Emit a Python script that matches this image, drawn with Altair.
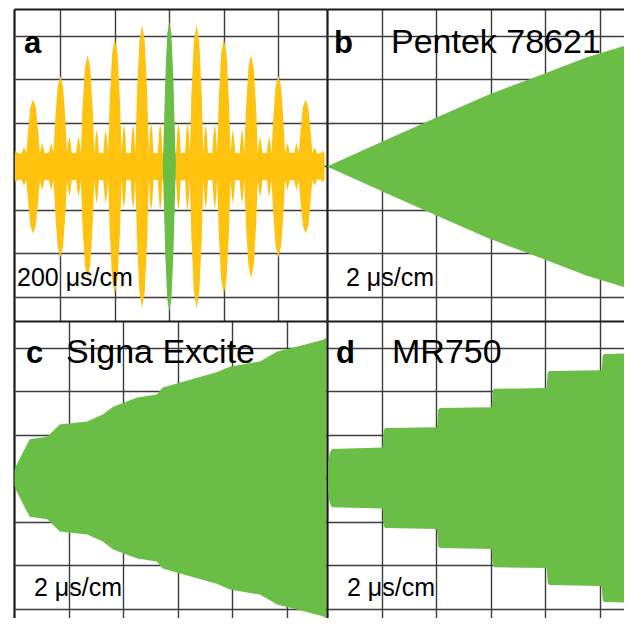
import altair as alt
import pandas as pd

# ---------------- data ----------------
# Panel a: envelope vertices (time in cm at 200 us/cm, amplitude in cm) of the yellow beat signal
a_env = [
    (-2.835, 0.30), (-2.82, 0.37), (-2.79, 0.31),
    (-2.71, 0.30), (-2.689, 0.38), (-2.667, 0.44), (-2.645, 0.38), (-2.624, 0.31),
    (-2.622, 0.34), (-2.595, 0.77), (-2.55, 1.36), (-2.50, 1.54), (-2.45, 1.36), (-2.405, 0.77), (-2.378, 0.34),
    (-2.376, 0.31), (-2.355, 0.43), (-2.333, 0.55), (-2.311, 0.43), (-2.29, 0.31),
    (-2.21, 0.31), (-2.189, 0.43), (-2.167, 0.55), (-2.145, 0.43), (-2.124, 0.31),
    (-2.122, 0.34), (-2.095, 1.05), (-2.05, 1.84), (-2.00, 2.09), (-1.95, 1.84), (-1.905, 1.05), (-1.878, 0.34),
    (-1.876, 0.31), (-1.855, 0.54), (-1.833, 0.69), (-1.811, 0.54), (-1.79, 0.31),
    (-1.71, 0.31), (-1.689, 0.54), (-1.667, 0.69), (-1.645, 0.54), (-1.624, 0.31),
    (-1.622, 0.34), (-1.595, 1.29), (-1.55, 2.26), (-1.50, 2.57), (-1.45, 2.26), (-1.405, 1.29), (-1.378, 0.34),
    (-1.376, 0.31), (-1.355, 0.66), (-1.333, 0.85), (-1.311, 0.66), (-1.29, 0.31),
    (-1.21, 0.31), (-1.189, 0.66), (-1.167, 0.85), (-1.145, 0.66), (-1.124, 0.31),
    (-1.122, 0.34), (-1.095, 1.47), (-1.05, 2.59), (-1.00, 2.94), (-0.95, 2.59), (-0.905, 1.47), (-0.878, 0.34),
    (-0.876, 0.31), (-0.855, 0.76), (-0.833, 0.97), (-0.811, 0.76), (-0.79, 0.31),
    (-0.71, 0.31), (-0.689, 0.76), (-0.667, 0.97), (-0.645, 0.76), (-0.624, 0.31),
    (-0.622, 0.34), (-0.595, 1.63), (-0.55, 2.87), (-0.50, 3.26), (-0.45, 2.87), (-0.405, 1.63), (-0.378, 0.34),
    (-0.376, 0.31), (-0.355, 0.79), (-0.333, 1.01), (-0.311, 0.79), (-0.29, 0.31),
    (-0.21, 0.31), (-0.189, 0.79), (-0.167, 1.01), (-0.145, 0.79), (-0.124, 0.31),
    (0.0, 0.34),
    (0.124, 0.31), (0.145, 0.79), (0.167, 1.01), (0.189, 0.79), (0.21, 0.31),
    (0.29, 0.31), (0.311, 0.79), (0.333, 1.01), (0.355, 0.79), (0.376, 0.31),
    (0.378, 0.34), (0.405, 1.63), (0.45, 2.87), (0.50, 3.26), (0.55, 2.87), (0.595, 1.63), (0.622, 0.34),
    (0.624, 0.31), (0.645, 0.76), (0.667, 0.97), (0.689, 0.76), (0.71, 0.31),
    (0.79, 0.31), (0.811, 0.76), (0.833, 0.97), (0.855, 0.76), (0.876, 0.31),
    (0.878, 0.34), (0.905, 1.47), (0.95, 2.59), (1.00, 2.94), (1.05, 2.59), (1.095, 1.47), (1.122, 0.34),
    (1.124, 0.31), (1.145, 0.66), (1.167, 0.85), (1.189, 0.66), (1.21, 0.31),
    (1.29, 0.31), (1.311, 0.66), (1.333, 0.85), (1.355, 0.66), (1.376, 0.31),
    (1.378, 0.34), (1.405, 1.29), (1.45, 2.26), (1.50, 2.57), (1.55, 2.26), (1.595, 1.29), (1.622, 0.34),
    (1.624, 0.31), (1.645, 0.54), (1.667, 0.69), (1.689, 0.54), (1.71, 0.31),
    (1.79, 0.31), (1.811, 0.54), (1.833, 0.69), (1.855, 0.54), (1.876, 0.31),
    (1.878, 0.34), (1.905, 1.05), (1.95, 1.84), (2.00, 2.09), (2.05, 1.84), (2.095, 1.05), (2.122, 0.34),
    (2.124, 0.31), (2.145, 0.43), (2.167, 0.55), (2.189, 0.43), (2.21, 0.31),
    (2.29, 0.31), (2.311, 0.43), (2.333, 0.55), (2.355, 0.43), (2.376, 0.31),
    (2.378, 0.34), (2.405, 0.77), (2.45, 1.36), (2.50, 1.54), (2.55, 1.36), (2.595, 0.77), (2.622, 0.34),
    (2.624, 0.31), (2.645, 0.38), (2.667, 0.44), (2.689, 0.38), (2.71, 0.30),
    (2.79, 0.31), (2.82, 0.37), (2.85, 0.28),
]

# Panel a: green centre pulse
g_env = [(-0.12, 0.0), (-0.11, 0.40), (-0.075, 2.00), (-0.038, 3.05), (0.0, 3.33),
         (0.038, 3.05), (0.075, 2.00), (0.11, 0.40), (0.12, 0.0)]

# Panel b: Pentek 78621 (2 us/cm)
b_env = [(0.0, 0.0), (1.10, 0.62), (2.02, 1.13), (2.94, 1.64), (3.85, 2.07),
         (4.77, 2.51), (5.61, 2.83), (5.80, 2.90)]

# Panel c: Signa Excite (2 us/cm)
c_env = [(0.01, 0.18), (0.03, 0.26), (0.17, 0.61), (0.29, 0.89), (0.61, 0.95),
         (0.84, 1.23), (1.34, 1.30), (1.63, 1.46), (1.82, 1.64), (2.26, 1.85),
         (2.62, 1.92), (2.73, 2.08), (3.23, 2.26), (3.72, 2.43), (3.96, 2.56),
         (4.51, 2.68), (4.83, 2.91), (5.19, 3.02), (5.67, 3.18), (5.73, 3.22)]

# Panel d: MR750 (2 us/cm), stepped ramp
d_env = [(0.02, 0.30), (0.05, 0.58), (0.09, 0.67), (1.02, 0.70), (1.04, 1.10),
         (1.07, 1.15), (2.02, 1.17), (2.04, 1.57), (2.07, 1.61), (3.02, 1.63),
         (3.04, 2.01), (3.07, 2.05), (4.03, 2.07), (4.05, 2.42), (4.08, 2.46),
         (5.04, 2.48), (5.06, 2.82), (5.09, 2.85), (5.80, 2.87)]

letters = ["a", "b", "c", "d"]
names = ["", "Pentek 78621", "Signa Excite", "MR750"]
sweeps = ["200 μs/cm", "2 μs/cm", "2 μs/cm", "2 μs/cm"]

YELLOW = "#FFC20E"
GREEN = "#6ABD45"
FONT = "Liberation Sans"
GRID = "#3c3c3c"
BORDER = "#1a1a1a"

W1, W2 = 313, 297
H1, H2 = 312, 297
PX_X, PX_Y = 54.5, 43.5


def env_df(env):
    return pd.DataFrame(env, columns=["t", "amp"])


def grid_axis(values, edge):
    return alt.Axis(
        values=values + [edge], grid=True, labels=False, ticks=False,
        domain=False, title=None,
        gridWidth={"condition": {"test": f"datum.value == {edge}", "value": 2.2}, "value": 1.4},
        gridColor={"condition": {"test": f"datum.value == {edge}", "value": BORDER}, "value": GRID},
    )


def area(env, color, xdom, ydom, xvals, yvals):
    return alt.Chart(env_df(env)).transform_calculate(
        neg="-datum.amp"
    ).mark_area(color=color, clip=True, opacity=1).encode(
        x=alt.X("t:Q", scale=alt.Scale(domain=xdom, nice=False, zero=False),
                axis=grid_axis(xvals, xdom[0])),
        y=alt.Y("amp:Q", scale=alt.Scale(domain=ydom, nice=False, zero=False),
                axis=grid_axis(yvals, ydom[1])),
        y2="neg:Q",
    )


def text(label, px, py, size, bold=False):
    return alt.Chart(pd.DataFrame({"label": [label]})).mark_text(
        align="left", baseline="alphabetic", font=FONT, fontSize=size,
        fontWeight="bold" if bold else "normal", color="black",
    ).encode(text="label:N", x=alt.value(px), y=alt.value(py))


yv = [-3, -2, -1, 0, 1, 2, 3]
ydom1 = [round(3.62 - H1 / PX_Y, 4), 3.62]
ydom2 = [round(3.61 - H2 / PX_Y, 4), 3.61]
xdom_a = [-2.85, round(-2.85 + W1 / PX_X, 4)]
xdom_c = [0.0, round(W1 / PX_X, 4)]
xdom_bd = [0.0, round(W2 / PX_X, 4)]

panel_a = alt.layer(
    area(a_env, YELLOW, xdom_a, ydom1, [-2, -1, 0, 1, 2], yv),
    area(g_env, GREEN, xdom_a, ydom1, [-2, -1, 0, 1, 2], yv),
    text(letters[0], 10, 44, 31, bold=True),
    text(sweeps[0], 3, 277, 25),
).properties(width=W1, height=H1)

panel_b = alt.layer(
    area(b_env, GREEN, xdom_bd, ydom1, [1, 2, 3, 4, 5], yv),
    text(letters[1], 7, 44, 31, bold=True),
    text(names[1], 64, 44, 34),
    text(sweeps[1], 19, 277, 25),
).properties(width=W2, height=H1)

panel_c = alt.layer(
    area(c_env, GREEN, xdom_c, ydom2, [1, 2, 3, 4, 5], yv),
    text(letters[2], 12, 42, 31, bold=True),
    text(names[2], 52, 42, 34),
    text(sweeps[2], 20, 275, 25),
).properties(width=W1, height=H2)

panel_d = alt.layer(
    area(d_env, GREEN, xdom_bd, ydom2, [1, 2, 3, 4, 5], yv),
    text(letters[3], 9, 42, 31, bold=True),
    text(names[3], 65, 42, 34),
    text(sweeps[3], 20, 275, 25),
).properties(width=W2, height=H2)

chart = alt.vconcat(
    alt.hconcat(panel_a, panel_b, spacing=0),
    alt.hconcat(panel_c, panel_d, spacing=0),
    spacing=0,
).properties(
    padding={"left": 6, "top": 1, "right": 0, "bottom": 0},
    background="white",
).configure_view(
    strokeWidth=0, fill="white"
).configure_concat(spacing=0)

chart.save("out.html", embed_options={"renderer": "svg", "actions": False})
